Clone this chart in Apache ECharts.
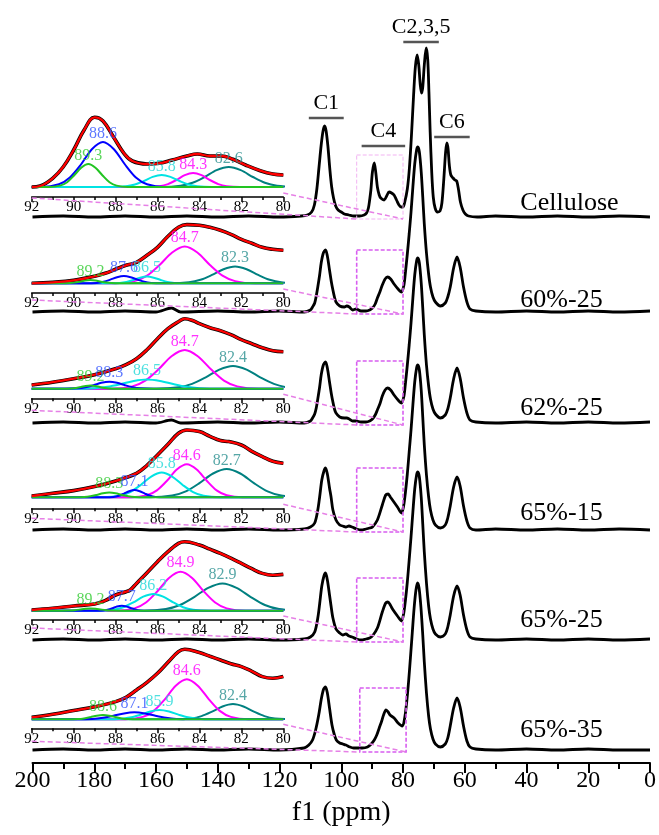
<!DOCTYPE html>
<html>
<head>
<meta charset="utf-8">
<script src="https://cdn.jsdelivr.net/npm/echarts@6/dist/echarts.min.js"></script>
<style>
  html, body { margin: 0; background: #fff; }
  #chart { width: 659px; height: 835px; }
</style>
</head>
<body>
<div id="chart"></div>
<script>
// ---- main spectra: [ppm, intensity above own baseline] ----
const sampleNames = ['Cellulose', '60%-25', '62%-25', '65%-15', '65%-25', '65%-35'];
const baselines = [546, 451, 340, 233, 123, 13];

const specCellulose = [[200,0],[190,1],[180,0],[170,1],[160,0],[150,1],[140,0],[130,1],[120,0],[113,1],[111,2],[109.6,5],[108.7,12],[107.9,28],[107.2,50],[106.5,72],[105.9,86],[105.4,91],[104.9,86],[104.3,70],[103.7,48],[103.1,30],[102.5,19],[101.8,11],[101,7],[100,5],[99,3],[97.5,2],[96,1],[94,1],[92.6,2],[91.8,4],[91.2,9],[90.8,17],[90.4,27],[89.9,45],[89.3,54],[88.8,44],[88.3,30],[87.7,22],[87.2,19],[86.1,17],[85.3,21],[84.5,25],[83.7,24],[82.9,22],[82.1,17],[81.3,12],[80.6,10],[80,10],[79.5,14],[78.6,28],[77.9,50],[77.2,85],[76.6,120],[76,150],[75.4,162],[74.9,152],[74.4,132],[74,124],[73.6,130],[73.1,152],[72.5,169],[72,158],[71.6,125],[71.2,85],[70.7,45],[70.2,20],[69.6,9],[68.8,5],[68,6],[67.4,14],[66.8,37],[66.2,65],[65.8,74],[65.4,68],[65,52],[64.5,42],[63.8,39],[63.2,37],[62.6,36],[62,27],[61.4,15],[60.6,7],[59.8,3],[58.8,1],[56,0],[50,1],[40,0],[30,1],[20,0],[10,1],[0,0]];
const spec60_25 = [[200,0],[190,1],[180,0],[170,1],[160,0],[155,4],[152,0],[140,1],[130,0],[120,1],[112,0],[110,2],[109.3,5],[108.6,9],[108.1,16],[107.6,25],[107,37],[106.5,49],[105.8,59],[105.1,62],[104.5,56],[103.8,42],[103.2,30],[102.7,22],[102.2,15],[101.7,10],[100.5,6],[99,5],[98.2,6],[97.4,5],[96.3,2],[95.2,3],[93.6,1],[92,1],[90.8,2],[89.9,4],[89,8],[88.3,14],[87.5,20],[86.7,27],[85.8,33],[85,35],[84,33],[82.9,28],[81.6,23],[80.5,20],[79.7,27],[79.2,40],[78.6,58],[78,78],[77.4,100],[76.8,125],[76.2,148],[75.6,162],[75.2,165],[74.7,160],[74.1,140],[73.6,115],[73.1,88],[72.4,59],[71.7,38],[71.1,25],[70.3,15],[69.5,10],[67.9,6],[66.3,9],[65.5,15],[64.7,25],[63.6,44],[62.5,55],[61.5,45],[60.4,25],[59.3,10],[58.3,3],[56.4,1],[50,0],[40,1],[30,0],[20,1],[10,0],[0,1]];
const spec62_25 = [[200,0],[190,1],[180,0],[170,1],[160,0],[155,3],[152,0],[140,1],[130,0],[120,1],[112,0],[110,2],[109.3,5],[108.6,9],[108.1,15],[107.6,24],[107,36],[106.5,48],[105.8,58],[105.1,61],[104.5,55],[103.8,41],[103.2,29],[102.7,21],[102.2,14],[101.7,10],[100.5,6],[99,5],[98.2,5],[97.4,4],[96.3,2],[95.2,2],[93.6,1],[92,1],[90.8,2],[89.9,4],[89,8],[88.3,13],[87.5,19],[86.7,27],[85.8,33],[85,35],[84,33],[82.9,28],[81.6,23],[80.5,20],[79.7,27],[79.2,40],[78.6,58],[78,78],[77.4,100],[76.8,125],[76.2,148],[75.6,162],[75.2,165],[74.7,160],[74.1,140],[73.6,115],[73.1,88],[72.4,58],[71.7,37],[71.1,24],[70.3,14],[69.5,9],[67.9,5],[66.3,8],[65.5,14],[64.7,25],[63.6,44],[62.5,55],[61.5,45],[60.4,25],[59.3,10],[58.3,3],[56.4,1],[50,0],[40,1],[30,0],[20,1],[10,0],[0,1]];
const spec65_15 = [[200,0],[190,1],[180,0],[170,1],[160,0],[150,1],[140,0],[130,1],[120,0],[112,1],[110,3],[108.6,7],[107.6,20],[107,33],[106.3,50],[105.6,59],[105.1,62],[104.5,56],[103.8,42],[103.3,33],[102.7,20],[101.7,10],[100.5,5],[99.5,4],[98.5,3],[97.5,4],[96.5,3],[95,1],[93.5,0],[92,1],[90.8,2],[89.9,3],[88.3,10],[86.7,25],[85.6,35],[84.8,36],[84.1,33],[83.4,30],[81.8,23],[80.5,17],[79.8,24],[79.2,38],[78.6,56],[78,78],[77.4,100],[76.8,125],[76.2,148],[75.6,162],[75.2,165],[74.7,160],[74.1,140],[73.6,113],[73.1,85],[72.4,55],[71.7,33],[71.1,20],[70.3,10],[69.5,5],[67.9,2],[66.3,5],[65.5,12],[64.7,24],[63.6,43],[62.5,53],[61.5,44],[60.4,24],[59.3,9],[58.3,2],[56.4,0],[50,1],[40,0],[30,1],[20,0],[10,1],[0,0]];
const spec65_25 = [[200,0],[190,1],[180,0],[170,1],[160,0],[150,1],[140,0],[130,1],[120,0],[112,1],[110,3],[108.6,8],[107.6,22],[107,36],[106.3,54],[105.6,64],[105.1,67],[104.5,60],[103.8,45],[103.3,34],[102.7,22],[101.7,11],[100.5,7],[99.5,5],[98.5,6],[97.5,4],[96.5,3],[95,1],[93.5,0],[92,1],[90.8,2],[89.9,4],[88.3,12],[86.7,28],[85.6,37],[84.9,38],[84.1,35],[83.4,31],[81.8,24],[80.5,19],[79.8,26],[79.2,40],[78.6,58],[78,80],[77.4,103],[76.8,128],[76.2,151],[75.6,165],[75.2,168],[74.7,163],[74.1,143],[73.6,116],[73.1,88],[72.4,57],[71.7,34],[71.1,21],[70.3,11],[69.5,6],[67.9,3],[66.3,6],[65.5,13],[64.7,25],[63.6,44],[62.5,54],[61.5,45],[60.4,25],[59.3,10],[58.3,3],[56.4,1],[50,0],[40,1],[30,0],[20,1],[10,0],[0,1]];
const spec65_35 = [[200,0],[190,1],[180,0],[170,1],[160,0],[150,1],[140,0],[130,1],[120,0],[112,2],[110.5,5],[109.3,10],[108.3,20],[107.3,35],[106.4,52],[105.7,61],[105.1,63],[104.5,57],[103.8,42],[103,25],[102.3,16],[101.6,10],[100.5,7],[99.5,6],[98.5,5],[97.2,3],[96,2],[94.5,2],[93.2,2],[91.5,3],[90.3,6],[89.3,10],[88.5,15],[87.7,22],[86.9,29],[86.3,35],[85.5,40],[84.8,38],[84.2,35],[82.9,32],[81.6,27],[80.2,24],[79.4,33],[78.8,48],[78.2,68],[77.6,92],[77,117],[76.4,142],[75.8,160],[75.3,167],[74.8,162],[74.2,143],[73.6,115],[73.1,88],[72.4,57],[71.7,34],[71.1,21],[70.3,11],[69.5,6],[67.9,3],[66.3,6],[65.5,12],[64.7,24],[63.6,42],[62.5,52],[61.5,43],[60.4,24],[59.3,9],[58.3,3],[56.4,1],[50,0],[40,1],[30,0],[20,1],[10,0],[0,0]];
const spectra = [specCellulose, spec60_25, spec62_25, spec65_15, spec65_25, spec65_35];

// ---- C4 deconvolution insets (92-80 ppm) ----
const fitCellulose = [[92,0],[91.6,1],[91,8.7],[90.5,20],[90,37],[89.5,57],[89,69.7],[88.6,66],[88.1,50],[87.6,33.7],[87.2,26],[86.5,23],[85.9,23.7],[85.3,27],[84.6,31],[84.1,33],[83.5,31],[82.95,31],[82.4,27.7],[81.8,22],[81.1,16.3],[80.5,13],[80,12]];
const fit60_25 = [[92,0],[91,1],[90,3],[89,7],[88.5,10],[88,14],[87.5,18],[87,21],[86.5,28],[86,36],[85.5,47],[85,56],[84.6,58.7],[84,58],[83.5,56],[83,53],[82.5,49],[82,44],[81.5,40],[81,36],[80.5,34],[80,33]];
const fit62_25 = [[92,3.7],[91,6.5],[90,10],[89,14],[88,20],[87.5,24],[87,30],[86.5,39],[86,50],[85.5,60],[85,67],[84.7,70],[84.3,68],[84,65],[83.5,61],[83,58],[82.5,54],[82,49],[81.5,45],[81,41],[80.5,38],[80,37]];
const fit65_15 = [[92,1.3],[91,4],[90,6.7],[89,10.7],[88,16.3],[87,24],[86.5,32],[86,42.3],[85.5,53],[85,64],[84.6,67.3],[84,65.7],[83.5,61],[83,56.7],[82.6,55.7],[82,52.3],[81.5,46],[81,40.7],[80.5,36],[80,34]];
const fit65_25 = [[92,0.7],[91,2.5],[90,4.7],[89,6.7],[88.5,10],[88,15.7],[87.5,19],[87.3,20.7],[87,27.3],[86.5,38],[86,49],[85.5,59],[85,67.3],[84.7,69],[84,65.7],[83.5,61.5],[83,57.3],[82.5,52.5],[82,47.3],[81.5,42],[81,37.3],[80.5,35.5],[80,36.3]];
const fit65_35 = [[92,2],[91,5],[90,8.7],[89,12.5],[88,17.7],[87.5,22],[87,29.3],[86.5,37],[86,46],[85.5,57],[85,67.7],[84.7,70],[84,66.7],[83.5,63],[83,59.3],[82.5,55.5],[82,52.7],[81.5,48],[81,42.7],[80.5,41],[80,42.7]];
const fits = [fitCellulose, fit60_25, fit62_25, fit65_15, fit65_25, fit65_35];

// fitted components per inset, order: green, blue, cyan, magenta, teal
const peakLabels = [
  ['89.3', '88.6', '85.8', '84.3', '82.6'],
  ['89.2', '87.6', '86.5', '84.7', '82.3'],
  ['89.2', '88.3', '86.5', '84.7', '82.4'],
  ['88.3', '87.1', '85.8', '84.6', '82.7'],
  ['89.2', '87.7', '86.2', '84.9', '82.9'],
  ['88.6', '87.1', '85.9', '84.6', '82.4']
];
const peaksCellulose = [
  [[91.19,0],[90.65,1.4],[90.31,4.8],[89.98,11.5],[89.64,19.3],[89.3,23],[88.96,19.3],[88.62,11.5],[88.29,4.8],[87.95,1.4],[87.41,0]],
  [[91.54,0],[90.7,2.7],[90.18,9.5],[89.65,22.5],[89.13,37.8],[88.6,45],[88.08,37.8],[87.55,22.5],[87.03,9.5],[86.5,2.7],[85.66,0]],
  [[88.18,0],[87.5,0.7],[87.08,2.5],[86.65,6],[86.23,10.1],[85.8,12],[85.38,10.1],[84.95,6],[84.53,2.5],[84.1,0.7],[83.42,0]],
  [[86.54,0],[85.9,0.8],[85.5,2.9],[85.1,7],[84.7,11.8],[84.3,14],[83.9,11.8],[83.5,7],[83.1,2.9],[82.7,0.8],[82.06,0]],
  [[85.82,0],[84.9,1.2],[84.33,4.2],[83.75,10],[83.18,16.8],[82.6,20],[82.03,16.8],[81.45,10],[80.88,4.2],[80.3,1.2],[79.38,0]]
];
const peaks60_25 = [
  [[90.6,0],[90.2,0.2],[89.95,0.7],[89.7,1.65],[89.45,2.8],[89.2,3.3],[88.95,2.8],[88.7,1.65],[88.45,0.7],[88.2,0.2],[87.8,0]],
  [[89.42,0],[88.9,0.4],[88.58,1.5],[88.25,3.65],[87.93,6.1],[87.6,7.3],[87.28,6.1],[86.95,3.65],[86.63,1.5],[86.3,0.4],[85.78,0]],
  [[88.32,0],[87.8,0.4],[87.48,1.4],[87.15,3.35],[86.83,5.6],[86.5,6.7],[86.18,5.6],[85.85,3.35],[85.53,1.4],[85.2,0.4],[84.68,0]],
  [[88.06,0],[87.1,2.2],[86.5,7.7],[85.9,18.35],[85.3,30.8],[84.7,36.7],[84.1,30.8],[83.5,18.35],[82.9,7.7],[82.3,2.2],[81.34,0]],
  [[85.38,0],[84.5,1],[83.95,3.5],[83.4,8.35],[82.85,14],[82.3,16.7],[81.75,14],[81.2,8.35],[80.65,3.5],[80.1,1],[79.22,0]]
];
const peaks62_25 = [
  [[90.46,0],[90.1,0.2],[89.88,0.7],[89.65,1.65],[89.43,2.8],[89.2,3.3],[88.98,2.8],[88.75,1.65],[88.53,0.7],[88.3,0.2],[87.94,0]],
  [[90.4,0],[89.8,0.4],[89.43,1.5],[89.05,3.5],[88.68,5.9],[88.3,7],[87.93,5.9],[87.55,3.5],[87.18,1.5],[86.8,0.4],[86.2,0]],
  [[90,0],[89,0.55],[88.38,1.95],[87.75,4.65],[87.13,7.8],[86.5,9.3],[85.88,7.8],[85.25,4.65],[84.63,1.95],[84,0.55],[83,0]],
  [[88.2,0],[87.2,2.3],[86.58,8.1],[85.95,19.35],[85.33,32.5],[84.7,38.7],[84.08,32.5],[83.45,19.35],[82.83,8.1],[82.2,2.3],[81.2,0]],
  [[86.04,0],[85,1.4],[84.35,4.8],[83.7,11.35],[83.05,19.1],[82.4,22.7],[81.75,19.1],[81.1,11.35],[80.45,4.8],[79.8,1.4],[78.76,0]]
];
const peaks65_15 = [
  [[89.98,0],[89.5,0.3],[89.2,1],[88.9,2.35],[88.6,3.95],[88.3,4.7],[88,3.95],[87.7,2.35],[87.4,1],[87.1,0.3],[86.62,0]],
  [[88.5,0],[88.1,0.4],[87.85,1.5],[87.6,3.65],[87.35,6.1],[87.1,7.3],[86.85,6.1],[86.6,3.65],[86.35,1.5],[86.1,0.4],[85.7,0]],
  [[88.6,0],[87.8,1.5],[87.3,5.2],[86.8,12.35],[86.3,20.7],[85.8,24.7],[85.3,20.7],[84.8,12.35],[84.3,5.2],[83.8,1.5],[83,0]],
  [[87.26,0],[86.5,2],[86.03,6.9],[85.55,16.5],[85.08,27.7],[84.6,33],[84.13,27.7],[83.65,16.5],[83.18,6.9],[82.7,2],[81.94,0]],
  [[86.34,0],[85.3,1.7],[84.65,5.9],[84,14.15],[83.35,23.8],[82.7,28.3],[82.05,23.8],[81.4,14.15],[80.75,5.9],[80.1,1.7],[79.06,0]]
];
const peaks65_25 = [
  [[90.6,0],[90.2,0.15],[89.95,0.5],[89.7,1.15],[89.45,1.9],[89.2,2.3],[88.95,1.9],[88.7,1.15],[88.45,0.5],[88.2,0.15],[87.8,0]],
  [[88.96,0],[88.6,0.3],[88.38,1.05],[88.15,2.5],[87.93,4.2],[87.7,5],[87.48,4.2],[87.25,2.5],[87.03,1.05],[86.8,0.3],[86.44,0]],
  [[88.86,0],[88.1,1],[87.63,3.5],[87.15,8.35],[86.68,14],[86.2,16.7],[85.73,14],[85.25,8.35],[84.78,3.5],[84.3,1],[83.54,0]],
  [[87.98,0],[87.1,2.3],[86.55,8.2],[86,19.5],[85.45,32.8],[84.9,39],[84.35,32.8],[83.8,19.5],[83.25,8.2],[82.7,2.3],[81.82,0]],
  [[86.68,0],[85.6,1.6],[84.93,5.7],[84.25,13.65],[83.58,22.9],[82.9,27.3],[82.23,22.9],[81.55,13.65],[80.88,5.7],[80.2,1.6],[79.12,0]]
];
const peaks65_35 = [
  [[90.28,0],[89.8,0.25],[89.5,0.9],[89.2,2.15],[88.9,3.6],[88.6,4.3],[88.3,3.6],[88,2.15],[87.7,0.9],[87.4,0.25],[86.92,0]],
  [[89.9,0],[89.1,0.4],[88.6,1.5],[88.1,3.5],[87.6,5.9],[87.1,7],[86.6,5.9],[86.1,3.5],[85.6,1.5],[85.1,0.4],[84.3,0]],
  [[88.42,0],[87.7,0.55],[87.25,1.95],[86.8,4.65],[86.35,7.8],[85.9,9.3],[85.45,7.8],[85,4.65],[84.55,1.95],[84.1,0.55],[83.38,0]],
  [[87.54,0],[86.7,2.4],[86.18,8.4],[85.65,20],[85.13,33.6],[84.6,40],[84.08,33.6],[83.55,20],[83.03,8.4],[82.5,2.4],[81.66,0]],
  [[85.2,0],[84.4,0.9],[83.9,3.2],[83.4,7.65],[82.9,12.85],[82.4,15.3],[81.9,12.85],[81.4,7.65],[80.9,3.2],[80.4,0.9],[79.6,0]]
];
const peaks = [peaksCellulose, peaks60_25, peaks62_25, peaks65_15, peaks65_25, peaks65_35];

const tagNames = ['C1', 'C4', 'C2,3,5', 'C6'];
const tagRanges = [[110.5, 99.2], [93.4, 79.3], [79.9, 68.4], [69.9, 58.4]];

// ---- layout ----
const FONT = '"Liberation Serif", "Times New Roman", serif';
const insetZeroY = [187, 283.3, 388.7, 497.3, 610.7, 719.3];
const insetAxisY = [197, 293, 398.3, 508.3, 620, 728.3];
const insetTop = 76;
const lineAStartDrop = [1, 7, 12, 10, 8, 13];
const boxRanges = [[95, 80], [95, 80], [95, 80], [95, 80], [95, 80], [94, 79]];
const tagBarY = [118, 146, 42, 137];
const nameY = [203, 300, 408, 513, 620, 730];
const peakColors = ['#22c422', '#0000ff', '#00e3e3', '#ff00ff', '#008080'];
const peakTextColors = ['#33cc33', '#3355ff', '#22d8d8', '#ff00ff', '#2a9090'];

const chart = echarts.init(document.getElementById('chart'));

const grids = [{ left: 32.5, right: 4.5, top: 43, bottom: 72 }];
const xAxes = [{
  type: 'value', gridIndex: 0, min: 0, max: 200, interval: 20, inverse: true,
  axisLine: { onZero: false, lineStyle: { color: '#000', width: 2 } },
  axisTick: { length: 10, lineStyle: { color: '#000', width: 2 } },
  minorTick: { show: true, splitNumber: 2, length: 6, lineStyle: { color: '#000', width: 2 } },
  splitLine: { show: false },
  axisLabel: { fontSize: 24, fontFamily: FONT, color: '#000', margin: 6 },
  name: 'f1 (ppm)', nameLocation: 'middle', nameGap: 36,
  nameTextStyle: { fontSize: 28, fontFamily: FONT, color: '#000' }
}];
const yAxes = [{ type: 'value', gridIndex: 0, min: 0, max: 720, show: false }];
const series = [];

spectra.forEach((spec, i) => {
  series.push({
    type: 'line', xAxisIndex: 0, yAxisIndex: 0, showSymbol: false, smooth: 0.3,
    data: spec.map(p => [p[0], p[1] + baselines[i]]),
    lineStyle: { color: '#000', width: 2.8 }, z: 2
  });
});

// pad each component with its zero baseline out to the inset edges
function padBaseline(pts) {
  const out = pts.slice();
  if (out[0][0] < 92) out.unshift([92, 0]);
  if (out[out.length - 1][0] > 80) out.push([80, 0]);
  return out;
}
function peakTop(pts) {
  return pts.reduce((a, b) => (b[1] > a[1] ? b : a));
}

fits.forEach((fit, i) => {
  const g = i + 1;
  const gap = insetAxisY[i] - insetZeroY[i];
  grids.push({ left: 31.7, width: 251.6, top: insetZeroY[i] - insetTop, height: gap + insetTop });
  xAxes.push({
    type: 'value', gridIndex: g, min: 80, max: 92, interval: 2, inverse: true,
    axisLine: { onZero: false, lineStyle: { color: '#000', width: 1.5 } },
    axisTick: { length: 5, lineStyle: { color: '#000', width: 1.5 } },
    minorTick: { show: true, splitNumber: 2, length: 3, lineStyle: { color: '#000', width: 1.5 } },
    splitLine: { show: false },
    axisLabel: { fontSize: 15, fontFamily: FONT, color: '#000', margin: 3 }
  });
  yAxes.push({ type: 'value', gridIndex: g, min: -gap, max: insetTop, show: false });

  series.push({
    type: 'line', xAxisIndex: g, yAxisIndex: g, showSymbol: false, smooth: 0.4,
    data: fit, lineStyle: { color: '#000', width: 3.6 }, z: 3
  });
  series.push({
    type: 'line', xAxisIndex: g, yAxisIndex: g, showSymbol: false, smooth: 0.4,
    data: fit, lineStyle: { color: '#ff0000', width: 2.3 }, z: 5
  });
  [4, 3, 2, 1, 0].forEach(k => {
    series.push({
      type: 'line', xAxisIndex: g, yAxisIndex: g, showSymbol: false, smooth: 0.3,
      data: padBaseline(peaks[i][k]), lineStyle: { color: peakColors[k], width: 2 }, z: 4
    });
  });
  series.push({
    type: 'scatter', xAxisIndex: g, yAxisIndex: g, symbolSize: 1, z: 6,
    itemStyle: { color: 'rgba(0,0,0,0)' },
    label: { show: true, position: 'top', distance: 0, formatter: '{b}', fontSize: 16, fontFamily: FONT },
    data: peaks[i].map((pts, k) => ({
      name: peakLabels[i][k], value: peakTop(pts), label: { color: peakTextColors[k] }
    }))
  });
});

chart.setOption({
  animation: false,
  backgroundColor: '#fff',
  grid: grids, xAxis: xAxes, yAxis: yAxes, series: series
});

// ---- annotations positioned through the axes ----
const toMain = p => chart.convertToPixel({ xAxisIndex: 0, yAxisIndex: 0 }, p);
const toInset = (i, p) => chart.convertToPixel({ xAxisIndex: i + 1, yAxisIndex: i + 1 }, p);
const graphics = [];

baselines.forEach((base, i) => {
  const bl = toMain([boxRanges[i][0], base - 2]);
  const tr = toMain([boxRanges[i][1], base + 62]);
  const first = i === 0;
  graphics.push({
    type: 'rect', z: 10,
    shape: { x: bl[0], y: tr[1], width: tr[0] - bl[0], height: bl[1] - tr[1] },
    style: { fill: 'none', stroke: first ? '#f2b3f2' : '#d85ef0', lineWidth: first ? 1 : 1.6, lineDash: [4, 2] }
  });
  const gap = insetAxisY[i] - insetZeroY[i];
  const a0 = toInset(i, [92, -gap]);
  const b0 = toInset(i, [80, -gap]);
  const br = toMain([boxRanges[i][1], base - 2]);
  graphics.push({
    type: 'line', z: 10, shape: { x1: a0[0], y1: a0[1] + lineAStartDrop[i], x2: bl[0], y2: bl[1] },
    style: { stroke: '#e680e6', lineWidth: 1.5, lineDash: [5, 3] }
  });
  graphics.push({
    type: 'line', z: 10, shape: { x1: b0[0], y1: b0[1] - 4, x2: br[0], y2: br[1] },
    style: { stroke: '#e680e6', lineWidth: 1.5, lineDash: [5, 3] }
  });
  const lp = toMain([42, base]);
  graphics.push({
    type: 'text', z: 10,
    style: { text: sampleNames[i], x: lp[0], y: nameY[i], font: '26px ' + FONT, fill: '#000',
      textAlign: 'left', textVerticalAlign: 'middle', align: 'left', verticalAlign: 'middle' }
  });
});

tagNames.forEach((t, k) => {
  const x1 = toMain([tagRanges[k][0], 0])[0];
  const x2 = toMain([tagRanges[k][1], 0])[0];
  const y = tagBarY[k];
  graphics.push({
    type: 'line', z: 10, shape: { x1: x1, y1: y, x2: x2, y2: y },
    style: { stroke: '#555', lineWidth: 2.5 }
  });
  graphics.push({
    type: 'text', z: 10,
    style: { text: t, x: (x1 + x2) / 2, y: y - 4, font: '22px ' + FONT, fill: '#000',
      textAlign: 'center', textVerticalAlign: 'bottom', align: 'center', verticalAlign: 'bottom' }
  });
});

chart.setOption({ graphic: graphics });
</script>
</body>
</html>
